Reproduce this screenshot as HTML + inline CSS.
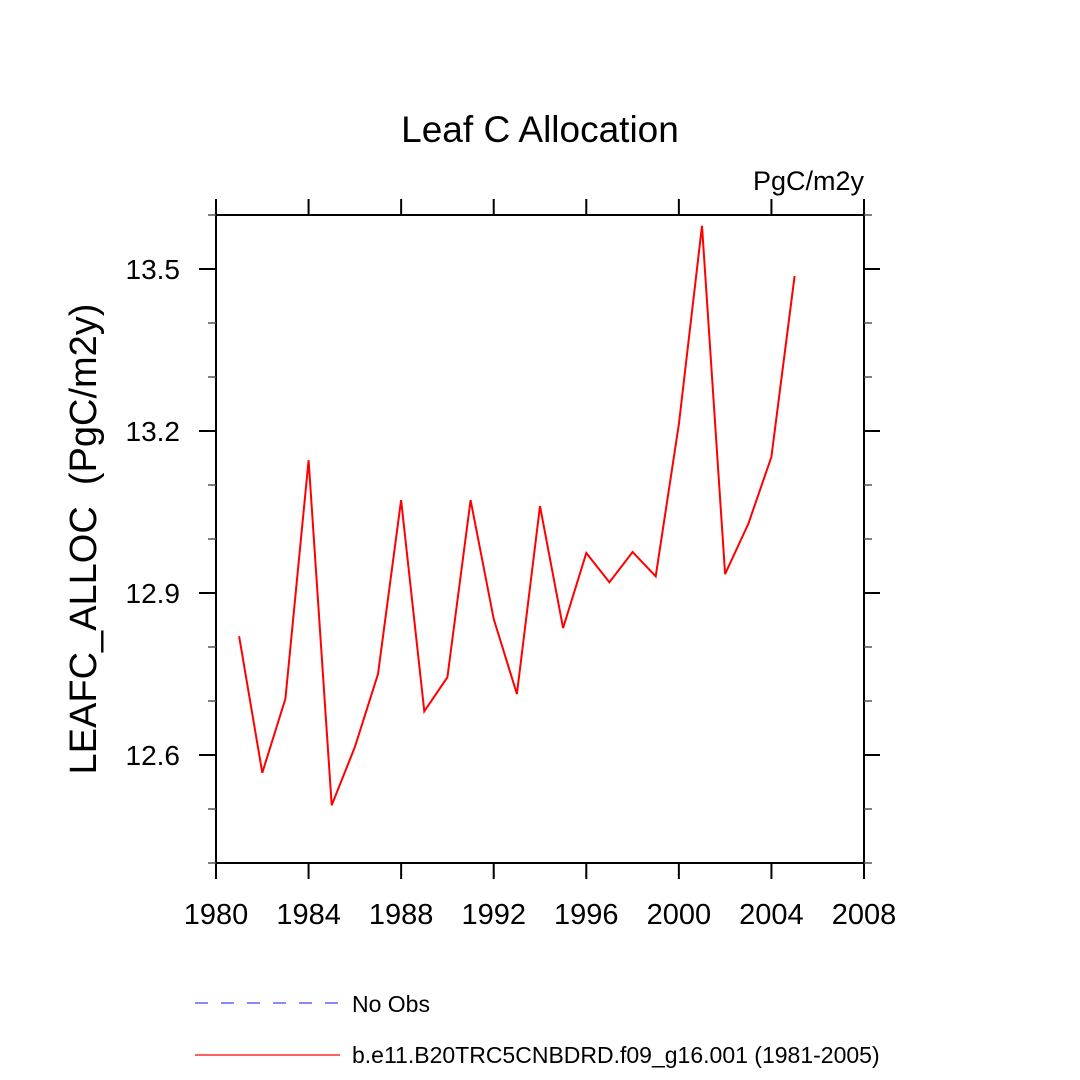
<!DOCTYPE html>
<html><head><meta charset="utf-8"><style>
body{margin:0;background:#fff;}
svg{display:block;font-family:"Liberation Sans",sans-serif;}
</style></head><body>
<svg id="chart" width="1080" height="1080" viewBox="0 0 1080 1080">
<text x="540" y="142" font-size="37" text-anchor="middle">Leaf C Allocation</text>
<text x="864" y="190" font-size="27" text-anchor="end">PgC/m2y</text>
<text transform="translate(96,539) rotate(-90)" font-size="38" text-anchor="middle">LEAFC_ALLOC&#160; (PgC/m2y)</text>
<g id="axes"></g>
<g id="series"></g>
<g>
<line x1="195" y1="1003" x2="340" y2="1003" stroke="#4040ff" stroke-width="1.2" stroke-dasharray="13,13"/>
<text x="352" y="1012" font-size="23">No Obs</text>
<line x1="195" y1="1055" x2="340" y2="1055" stroke="#ff0000" stroke-width="1.2"/>
<text x="352" y="1063" font-size="23">b.e11.B20TRC5CNBDRD.f09_g16.001 (1981-2005)</text>
</g>
</svg>
<script>
const years=[1981,1982,1983,1984,1985,1986,1987,1988,1989,1990,1991,1992,1993,1994,1995,1996,1997,1998,1999,2000,2001,2002,2003,2004,2005];
const values=[12.820,12.567,12.704,13.146,12.507,12.615,12.750,13.072,12.681,12.744,13.072,12.852,12.713,13.061,12.835,12.974,12.920,12.976,12.931,13.213,13.580,12.935,13.028,13.152,13.487];
const xTicks=[1980,1984,1988,1992,1996,2000,2004,2008];
const yTicks=[12.6,12.9,13.2,13.5];
const yMinor=[12.4,12.5,12.7,12.8,13.0,13.1,13.3,13.4,13.6];
const X0=216,X1=864,Y0=215,Y1=863,xmin=1980,xmax=2008,ymin=12.4,ymax=13.6;
const xs=v=>X0+(v-xmin)/(xmax-xmin)*(X1-X0);
const ys=v=>Y1-(v-ymin)/(ymax-ymin)*(Y1-Y0);
const NS='http://www.w3.org/2000/svg';
const axes=document.getElementById('axes');
function mk(tag,attrs,parent){const e=document.createElementNS(NS,tag);for(const k in attrs)e.setAttribute(k,attrs[k]);parent.appendChild(e);return e;}
const frame=mk('rect',{x:X0,y:Y0,width:X1-X0,height:Y1-Y0,fill:'none',stroke:'#000','stroke-width':2},axes);


xTicks.forEach(t=>{const x=xs(t);
 const a=mk('line',{x1:x,y1:Y1,x2:x,y2:Y1+16,stroke:'#000','stroke-width':2},axes);
 
 
 const b=mk('line',{x1:x,y1:Y0,x2:x,y2:Y0-16,stroke:'#000','stroke-width':2},axes);
 
 
 const l=mk('text',{x:x,y:Y1+61,'font-size':29,'text-anchor':'middle'},axes);l.textContent=t;
 
 
});
yTicks.forEach(t=>{const y=ys(t);
 const a=mk('line',{x1:X0-17,y1:y,x2:X0,y2:y,stroke:'#000','stroke-width':2},axes);
 
 
 const b=mk('line',{x1:X1,y1:y,x2:X1+16,y2:y,stroke:'#000','stroke-width':2},axes);
 
 
 const l=mk('text',{x:X0-36,y:y+10,'font-size':28,'text-anchor':'end'},axes);l.textContent=t.toFixed(1);
 
 
});
yMinor.forEach(t=>{const y=ys(t);
 const a=mk('line',{x1:X0-8,y1:y,x2:X0,y2:y,stroke:'#555','stroke-width':1.5},axes);
 
 
 const b=mk('line',{x1:X1,y1:y,x2:X1+8,y2:y,stroke:'#555','stroke-width':1.5},axes);
 
 
});
const pts=years.map((yr,i)=>xs(yr).toFixed(1)+','+ys(values[i]).toFixed(1)).join(' ');
const line=mk('polyline',{points:pts,fill:'none',stroke:'#ff0000','stroke-width':2,'stroke-linejoin':'miter'},document.getElementById('series'));


</script>
</body></html>
